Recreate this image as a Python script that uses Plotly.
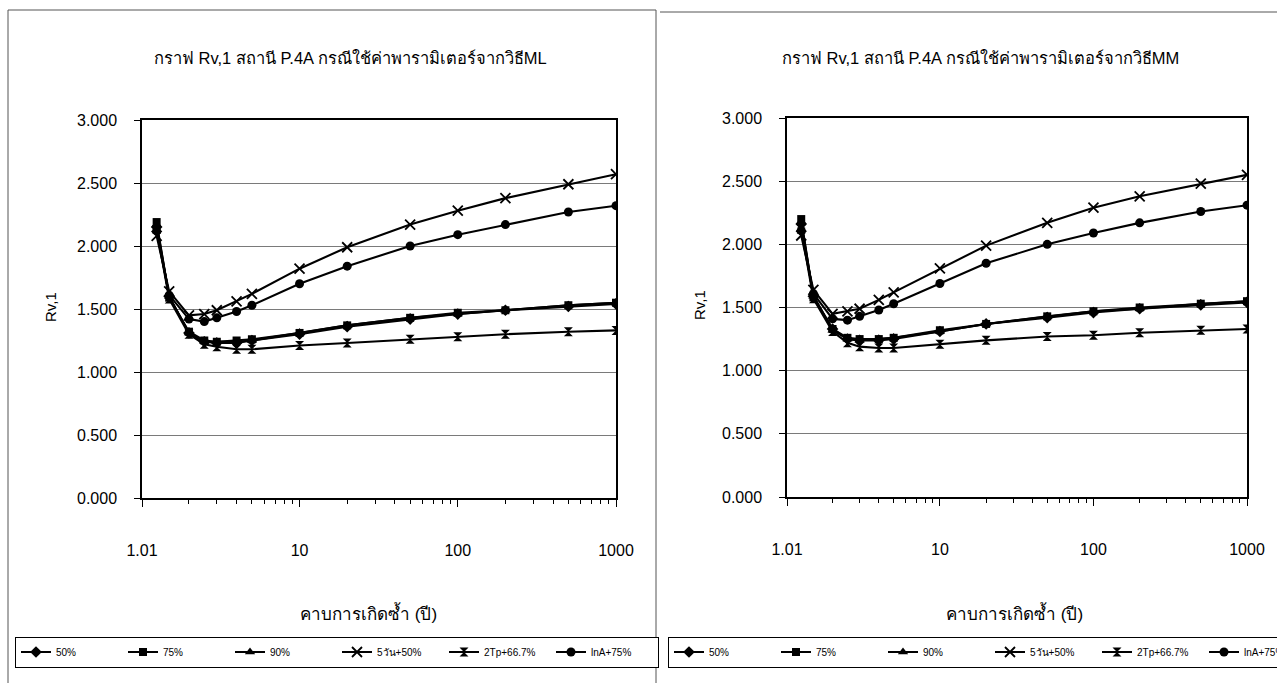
import math
import plotly.graph_objects as go

W, H = 1277, 683

# ---------------- data ----------------
return_period = [1.25, 1.5, 2, 2.5, 3, 4, 5, 10, 20, 50, 100, 200, 500, 1000]
series_names = ["50%", "75%", "90%", "5วัน+50%", "2Tp+66.7%", "lnA+75%"]

# Chart 1 : parameters from ML method
ml_p50 = [2.15, 1.60, 1.31, 1.24, 1.23, 1.23, 1.25, 1.30, 1.36, 1.42, 1.46, 1.49, 1.52, 1.54]
ml_p75 = [2.19, 1.59, 1.32, 1.25, 1.24, 1.25, 1.26, 1.31, 1.37, 1.43, 1.47, 1.49, 1.53, 1.55]
ml_p90 = [2.17, 1.60, 1.31, 1.24, 1.24, 1.24, 1.25, 1.31, 1.37, 1.43, 1.46, 1.49, 1.53, 1.55]
ml_5d50 = [2.08, 1.64, 1.45, 1.46, 1.49, 1.56, 1.62, 1.82, 1.99, 2.17, 2.28, 2.38, 2.49, 2.57]
ml_2tp = [2.13, 1.58, 1.30, 1.22, 1.20, 1.18, 1.18, 1.21, 1.23, 1.26, 1.28, 1.30, 1.32, 1.33]
ml_lna = [2.12, 1.61, 1.42, 1.40, 1.43, 1.48, 1.53, 1.70, 1.84, 2.00, 2.09, 2.17, 2.27, 2.32]

# Chart 2 : parameters from MM method
mm_p50 = [2.16, 1.59, 1.33, 1.25, 1.24, 1.24, 1.25, 1.31, 1.37, 1.42, 1.46, 1.49, 1.52, 1.54]
mm_p75 = [2.20, 1.58, 1.33, 1.26, 1.25, 1.25, 1.26, 1.32, 1.37, 1.43, 1.47, 1.50, 1.53, 1.55]
mm_p90 = [2.18, 1.59, 1.32, 1.25, 1.24, 1.25, 1.26, 1.31, 1.37, 1.43, 1.47, 1.49, 1.53, 1.55]
mm_5d50 = [2.07, 1.64, 1.45, 1.47, 1.49, 1.56, 1.62, 1.81, 1.99, 2.17, 2.29, 2.38, 2.48, 2.55]
mm_2tp = [2.12, 1.57, 1.31, 1.22, 1.19, 1.18, 1.18, 1.21, 1.24, 1.27, 1.28, 1.30, 1.32, 1.33]
mm_lna = [2.11, 1.61, 1.41, 1.40, 1.43, 1.48, 1.53, 1.69, 1.85, 2.00, 2.09, 2.17, 2.26, 2.31]

y_tickvals = [0, 0.5, 1.0, 1.5, 2.0, 2.5, 3.0]
x_tickvals = [1.01, 10, 100, 1000]
x_ticktext = ["1.01", "10", "100", "1000"]
x_minor = [2, 3, 4, 5, 6, 7, 8, 9, 20, 30, 40, 50, 60, 70, 80, 90,
           200, 300, 400, 500, 600, 700, 800, 900]

title_ml = "กราฟ Rv,1 สถานี P.4A กรณีใช้ค่าพารามิเตอร์จากวิธีML"
title_mm = "กราฟ Rv,1 สถานี P.4A กรณีใช้ค่าพารามิเตอร์จากวิธีMM"
x_title = "คาบการเกิดซ้ำ (ปี)"
y_title = "Rv,1"

# ---------------- styles ----------------
FONT = "Liberation Sans, Arial, sans-serif"
THAI = "Liberation Sans, Arial, Noto Sans, sans-serif"

def marker_style(i):
    if i == 0:
        return dict(symbol="diamond", size=9, color="black")
    if i == 1:
        return dict(symbol="square", size=8, color="black")
    if i == 2:
        return dict(symbol="triangle-up", size=9, color="black")
    if i == 3:
        return dict(symbol="x-thin", size=10, color="black", line=dict(width=1.8, color="black"))
    if i == 4:
        return dict(symbol="hourglass", size=9, color="black")
    return dict(symbol="circle", size=9, color="black")

fig = go.Figure()

def add_chart(datasets, xa, ya, legend_name):
    for i, (name, vals) in enumerate(zip(series_names, datasets)):
        fig.add_trace(go.Scatter(
            x=return_period, y=vals, name=name, mode="lines+markers",
            line=dict(color="black", width=2.1),
            marker=marker_style(i),
            xaxis=xa, yaxis=ya, legend=legend_name,
        ))

add_chart([ml_p50, ml_p75, ml_p90, ml_5d50, ml_2tp, ml_lna], "x", "y", "legend")
add_chart([mm_p50, mm_p75, mm_p90, mm_5d50, mm_2tp, mm_lna], "x2", "y2", "legend2")

def px(x):
    return x / W

def py(y):
    return 1 - y / H

def xaxis_style(domain, anchor):
    return dict(
        type="log", domain=domain, anchor=anchor,
        range=[math.log10(1.01), 3],
        tickvals=x_tickvals, ticktext=x_ticktext,
        ticks="outside", ticklen=7, tickwidth=1, tickcolor="black",
        minor=dict(tickvals=x_minor, ticks="outside", ticklen=4, tickcolor="black", showgrid=False),
        showgrid=False, showline=True, linecolor="black", linewidth=1.5, mirror=True,
        tickfont=dict(family=FONT, size=16, color="black"),
        ticklabelstandoff=30, zeroline=False,
    )

def yaxis_style(domain, anchor):
    return dict(
        domain=domain, anchor=anchor, range=[0, 3],
        tickvals=y_tickvals, tickformat=".3f",
        ticks="outside", ticklen=6, tickcolor="black",
        showgrid=True, gridcolor="#7a7a7a", gridwidth=1,
        showline=True, linecolor="black", linewidth=1.5, mirror=True,
        tickfont=dict(family=FONT, size=16, color="black"),
        ticklabelstandoff=14, zeroline=False,
    )

legend_common = dict(
    orientation="h", xanchor="left", yanchor="middle",
    bordercolor="black", borderwidth=1, bgcolor="white",
    font=dict(family=FONT, size=10, color="black"),
    entrywidth=62, entrywidthmode="pixels", itemwidth=30,
    tracegroupgap=0,
)

def ann(text, x, y, size, family, angle=0):
    return dict(text=text, x=px(x), y=py(y), xref="paper", yref="paper",
                xanchor="center", yanchor="middle", showarrow=False, textangle=angle,
                font=dict(family=family, size=size, color="black"))

fig.update_layout(
    width=W, height=H,
    margin=dict(l=0, r=0, t=0, b=0, autoexpand=False),
    paper_bgcolor="white", plot_bgcolor="white",
    xaxis=xaxis_style([px(142), px(616)], "y"),
    yaxis=yaxis_style([py(498), py(120)], "x"),
    xaxis2=xaxis_style([px(787), px(1247)], "y2"),
    yaxis2=yaxis_style([py(497), py(118)], "x2"),
    legend=dict(x=px(15), y=py(652), **legend_common),
    legend2=dict(x=px(668), y=py(652), **legend_common),
    annotations=[
        ann(title_ml, 350, 58, 16.5, THAI),
        ann(title_mm, 980, 58, 16.5, THAI),
        ann(x_title, 368, 613, 17, THAI),
        ann(x_title, 1015, 613, 17, THAI),
        ann(y_title, 50, 307, 15, FONT, -90),
        ann(y_title, 700, 305, 15, FONT, -90),
    ],
    shapes=[
        dict(type="line", xref="paper", yref="paper", x0=px(8), x1=px(8), y0=py(10), y1=py(683),
             line=dict(color="#555555", width=1)),
        dict(type="line", xref="paper", yref="paper", x0=px(8), x1=px(656), y0=py(10), y1=py(10),
             line=dict(color="#555555", width=1)),
        dict(type="line", xref="paper", yref="paper", x0=px(656), x1=px(656), y0=py(10), y1=py(683),
             line=dict(color="#555555", width=1)),
        dict(type="line", xref="paper", yref="paper", x0=px(660), x1=px(1277), y0=py(12), y1=py(12),
             line=dict(color="#555555", width=1)),
    ],
    showlegend=True,
)

fig.write_html("out.html")
